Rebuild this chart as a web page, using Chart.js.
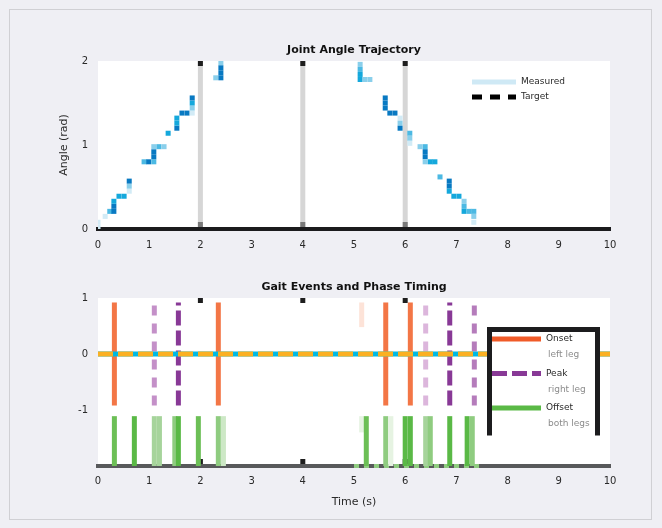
<!DOCTYPE html>
<html><head><meta charset="utf-8">
<script src="https://cdn.jsdelivr.net/npm/chart.js@4.4.1/dist/chart.umd.min.js"></script>
<style>
html,body{margin:0;padding:0;background:#ffffff;}
#fig{position:relative;width:662px;height:528px;background:#efeff4;overflow:hidden;}
#frame{position:absolute;left:9px;top:9px;width:643px;height:511px;border:1px solid #d0d0d4;box-sizing:border-box;}
canvas{position:absolute;left:0;}
</style></head><body>
<div id="fig"><div id="frame"></div>
<canvas id="c1" width="662" height="262" style="top:0px"></canvas>
<canvas id="c2" width="662" height="256" style="top:262px"></canvas>
</div>
<script>
// ---------- data ----------
const xTicks = [0,1,2,3,4,5,6,7,8,9,10];
const topYTicks = [0,1,2];
const bottomYTicks = [-1,0,1];
const phaseBounds = [2,4,6];

const topTitle = 'Joint Angle Trajectory';
const topYTitle = 'Angle (rad)';
const bottomTitle = 'Gait Events and Phase Timing';
const xTitle = 'Time (s)';

const measuredX = [0.00,0.00,0.14,0.23,0.31,0.31,0.31,0.41,0.51,0.61,0.61,0.61,0.90,0.99,1.09,1.09,1.09,1.09,1.19,1.29,1.37,1.54,1.54,1.54,1.64,1.74,1.84,1.84,1.84,1.84,2.30,2.40,2.40,2.40,2.40,
  5.12,5.12,5.12,5.12,5.21,5.31,5.61,5.61,5.61,5.70,5.80,5.90,5.90,5.90,6.09,6.09,6.09,6.29,6.39,6.39,6.39,6.39,6.49,6.58,6.68,6.86,6.86,6.86,6.95,7.05,7.15,7.15,7.15,7.25,7.34,7.34,7.34];
const measuredY = [0.02,0.08,0.15,0.21,0.21,0.27,0.33,0.39,0.39,0.45,0.51,0.57,0.80,0.80,0.80,0.86,0.92,0.98,0.98,0.98,1.14,1.20,1.26,1.32,1.38,1.38,1.38,1.44,1.50,1.56,1.80,1.80,1.86,1.92,1.98,
  1.96,1.90,1.84,1.78,1.78,1.78,1.56,1.50,1.44,1.38,1.38,1.32,1.26,1.20,1.14,1.08,1.02,0.98,0.98,0.92,0.86,0.80,0.80,0.80,0.62,0.57,0.51,0.45,0.39,0.39,0.33,0.27,0.21,0.21,0.21,0.15,0.08];
const measuredLevel = [4,4,4,2,0,0,1,1,1,4,3,0,2,0,2,0,0,3,2,3,1,0,1,1,0,0,4,3,1,0,3,0,0,0,3,
  3,2,1,1,3,3,0,0,0,0,0,4,3,0,2,3,4,3,2,0,0,3,1,1,2,0,0,1,1,1,3,2,1,2,2,3,4];

const eventLabels = [['Onset','left leg'],['Peak','right leg'],['Offset','both legs']];
const onsetTimes = [0.32,2.35,5.15,5.62,6.10];
const onsetLow   = [-0.92,-0.92,0.48,-0.92,-0.92];
const onsetLevel = [0,0,1,0,0];
const peakLightTimes = [1.10,6.40,7.35];
const peakLightLevel = [0,1,2];
const peakDarkTimes = [1.57,6.87];
const offsetTimes = [0.32,0.71,1.10,1.20,1.50,1.57,1.96,2.35,2.45,5.15,5.24,5.62,5.72,6.00,6.10,6.40,6.49,6.87,7.21,7.31];
const offsetLow   = [-2,-2,-2,-2,-2,-2,-2,-2,-2,-1.40,-2,-2,-2,-2,-2,-2,-2,-2,-2,-2];
const offsetLevel = [1,0,3,3,2,0,1,2,4,5,1,2,5,0,0,3,2,0,0,2];
const eventHigh = 0.92;
const offsetHigh = -1.11;
const refLevel = 0;
const baselineSpan = [5.0,7.5];
const baselineLevel = -2;

// ---------- styles ----------
const FONT = 'DejaVu Sans';
Chart.defaults.font.family = FONT;
Chart.defaults.animation = false;
const bluePal = ['#0879c2','#14a8dc','#4cb9e3','#8acfeb','#d2ebf6'];
const orangePal = ['#f37646','#fde3d8'];
const lpPal = ['#c490c8','#dcb6dc','#b57cbb'];
const greenPal = ['#5ab946','#6cbf56','#8fcc80','#a6d49b','#cde8c6','#e6f3e2'];

function events(times, low, high){
  const d=[];
  times.forEach((t,i)=>{
    d.push({x:t,y:Array.isArray(low)?low[i]:low});
    d.push({x:t,y:high});
    d.push({x:t,y:null});
  });
  return d;
}
const tickArr = arr => s => { s.ticks = arr.map(v=>({value:v})); };

const plotBg = { id:'plotBg', beforeDraw(chart){ const {ctx,chartArea:a}=chart; ctx.save(); ctx.fillStyle='#ffffff'; ctx.fillRect(a.left,a.top,a.right-a.left,a.bottom-a.top); ctx.restore(); } };
const markers = { id:'markers', beforeDatasetsDraw(chart,args,o){
  const {ctx,chartArea:a,scales:{x}}=chart; ctx.save();
  (o.lines||[]).forEach(v=>{ const p=x.getPixelForValue(v); ctx.fillStyle='#d6d6d6'; ctx.fillRect(p-2.5,a.top,5,a.bottom-a.top-2); });
  (o.ticks||[]).forEach(v=>{ const p=x.getPixelForValue(v); ctx.fillStyle='#1e1e1e'; ctx.fillRect(p-2.5,a.top,5,5); ctx.fillStyle=o.bottomColor||'#1e1e1e'; ctx.fillRect(p-2.5,a.bottom-7,5,5); });
  ctx.restore(); } };
const boxLegend = { id:'boxLegend', afterDraw(chart,args,o){
  if(!o.items) return; const ctx=chart.ctx; ctx.save();
  if(o.box){ const b=o.box; ctx.fillStyle='#ffffff'; ctx.fillRect(b.x-2.5,b.y-2.5,b.w+5,b.h+2.5);
    ctx.strokeStyle='#1c1c1e'; ctx.lineWidth=5; ctx.lineCap='butt'; ctx.beginPath();
    ctx.moveTo(b.x,b.y+b.h); ctx.lineTo(b.x,b.y); ctx.lineTo(b.x+b.w,b.y); ctx.lineTo(b.x+b.w,b.y+b.h); ctx.stroke(); }
  o.items.forEach((it,i)=>{
    const y=o.y+i*o.row;
    ctx.strokeStyle=it.color; ctx.lineWidth=it.width||5; ctx.setLineDash(it.dash||[]);
    ctx.beginPath(); ctx.moveTo(o.x,y); ctx.lineTo(o.x+o.len,y); ctx.stroke(); ctx.setLineDash([]);
    const lines=Array.isArray(it.label)?it.label:[it.label];
    ctx.font=o.fontSize+'px "'+FONT+'"'; ctx.textBaseline='middle'; ctx.textAlign='left';
    lines.forEach((t,j)=>{ ctx.fillStyle=j===0?'#2a2a2a':'#8c8c8c'; ctx.fillText(t,o.x+o.len+5+(j?2:0),y+j*o.sub); });
  });
  ctx.restore(); } };

const tickFont = {size:10, family:FONT};

// ---------- top chart ----------
new Chart(document.getElementById('c1'), {
  type:'scatter',
  data:{ datasets:[
    { label:'Measured', data:measuredX.map((x,i)=>({x:x,y:measuredY[i]})),
      pointStyle:'rect', pointRadius:3.55, pointBorderWidth:0,
      pointBackgroundColor:measuredLevel.map(l=>bluePal[l]), backgroundColor:'#cfe9f5', borderColor:'#cfe9f5', showLine:false },
    { label:'Target', data:[], borderColor:'#000000', borderDash:[10,8], showLine:true, pointRadius:0 }
  ]},
  plugins:[plotBg, markers, boxLegend],
  options:{
    responsive:false, events:[],
    layout:{padding:{left:0,top:43.8,right:52,bottom:0}},
    plugins:{
      legend:{display:false}, tooltip:{enabled:false},
      title:{display:true,fullSize:false,text:topTitle,color:'#111111',font:{size:11,weight:'bold',family:FONT},padding:{top:0,bottom:4}},
      markers:{lines:phaseBounds,ticks:phaseBounds,bottomColor:'#7a7a7a'},
      boxLegend:{x:472,len:44,y:82,row:15,sub:0,fontSize:9,items:[
        {label:'Measured',color:'#cfe9f5'},{label:'Target',color:'#000000',dash:[10,8]}]}
    },
    scales:{
      x:{type:'linear',min:0,max:10,afterBuildTicks:tickArr(xTicks),
        ticks:{font:tickFont,color:'#2a2a2a',padding:10,maxRotation:0,autoSkip:false},
        grid:{display:false,drawTicks:false}, border:{display:true,color:'#1b1b1d',width:4},
        afterFit:s=>{s.height=33;}},
      y:{type:'linear',min:0,max:2,afterBuildTicks:tickArr(topYTicks),
        ticks:{font:tickFont,color:'#2a2a2a',padding:10},
        grid:{display:false,drawTicks:false}, border:{display:false},
        title:{display:true,text:topYTitle,color:'#2a2a2a',font:{size:11,family:FONT},padding:{top:58,bottom:0}},
        afterFit:s=>{s.width=98;}}
    }
  }
});

// ---------- bottom chart ----------
const lineBase = {pointRadius:0, borderWidth:5, tension:0, spanGaps:false, borderCapStyle:'butt', fill:false};
new Chart(document.getElementById('c2'), {
  type:'line',
  data:{ datasets:[
    Object.assign({}, lineBase, {label:'ref dash', data:[{x:0,y:refLevel},{x:10,y:refLevel}], borderColor:'#fbb022', borderDash:[15,5]}),
    Object.assign({}, lineBase, {label:'ref', data:[{x:0,y:refLevel},{x:10,y:refLevel}], borderColor:'#00b9e1'}),
    Object.assign({}, lineBase, {label:'Onset', data:events(onsetTimes,onsetLow,eventHigh), borderColor:orangePal[0],
      segment:{borderColor:c=>orangePal[onsetLevel[Math.floor(c.p0DataIndex/3)]]}}),
    Object.assign({}, lineBase, {label:'Peak light', data:events(peakLightTimes,-eventHigh,eventHigh), borderColor:lpPal[0], borderDash:[10,8],
      segment:{borderColor:c=>lpPal[peakLightLevel[Math.floor(c.p0DataIndex/3)]]}}),
    Object.assign({}, lineBase, {label:'Peak', data:events(peakDarkTimes,-eventHigh,eventHigh), borderColor:'#883996', borderDash:[15,5]}),
    Object.assign({}, lineBase, {label:'Offset', data:events(offsetTimes,offsetLow,offsetHigh), borderColor:greenPal[0],
      segment:{borderColor:c=>greenPal[offsetLevel[Math.floor(c.p0DataIndex/3)]]}}),
    Object.assign({}, lineBase, {label:'baseline', data:[{x:baselineSpan[0],y:baselineLevel},{x:baselineSpan[1],y:baselineLevel}], borderColor:'#8fcc80', borderWidth:4, borderDash:[5,5], clip:false})
  ]},
  plugins:[plotBg, markers, boxLegend],
  options:{
    responsive:false, events:[],
    layout:{padding:{left:0,top:18.8,right:52,bottom:0}},
    plugins:{
      legend:{display:false}, tooltip:{enabled:false},
      title:{display:true,fullSize:false,text:bottomTitle,color:'#111111',font:{size:11,weight:'bold',family:FONT},padding:{top:0,bottom:4}},
      markers:{ticks:phaseBounds},
      boxLegend:{x:492,len:49,y:77,row:34.5,sub:16,fontSize:9,
        box:{x:489.5,y:67.5,w:108,h:106},
        items:[{label:eventLabels[0],color:'#f05a28'},{label:eventLabels[1],color:'#883996',dash:[15,5]},{label:eventLabels[2],color:'#5ab946'}]}
    },
    scales:{
      x:{type:'linear',min:0,max:10,afterBuildTicks:tickArr(xTicks),
        ticks:{font:tickFont,color:'#2a2a2a',padding:9,maxRotation:0,autoSkip:false},
        grid:{display:false,drawTicks:false}, border:{display:true,color:'#58595b',width:4},
        title:{display:true,text:xTitle,color:'#2a2a2a',font:{size:11,family:FONT},padding:{top:0,bottom:9}},
        afterFit:s=>{s.height=52;}},
      y:{type:'linear',min:-2,max:1,afterBuildTicks:tickArr(bottomYTicks),
        ticks:{font:tickFont,color:'#2a2a2a',padding:10},
        grid:{display:false,drawTicks:false}, border:{display:false},
        afterFit:s=>{s.width=98;}}
    }
  }
});
</script>
</body></html>
